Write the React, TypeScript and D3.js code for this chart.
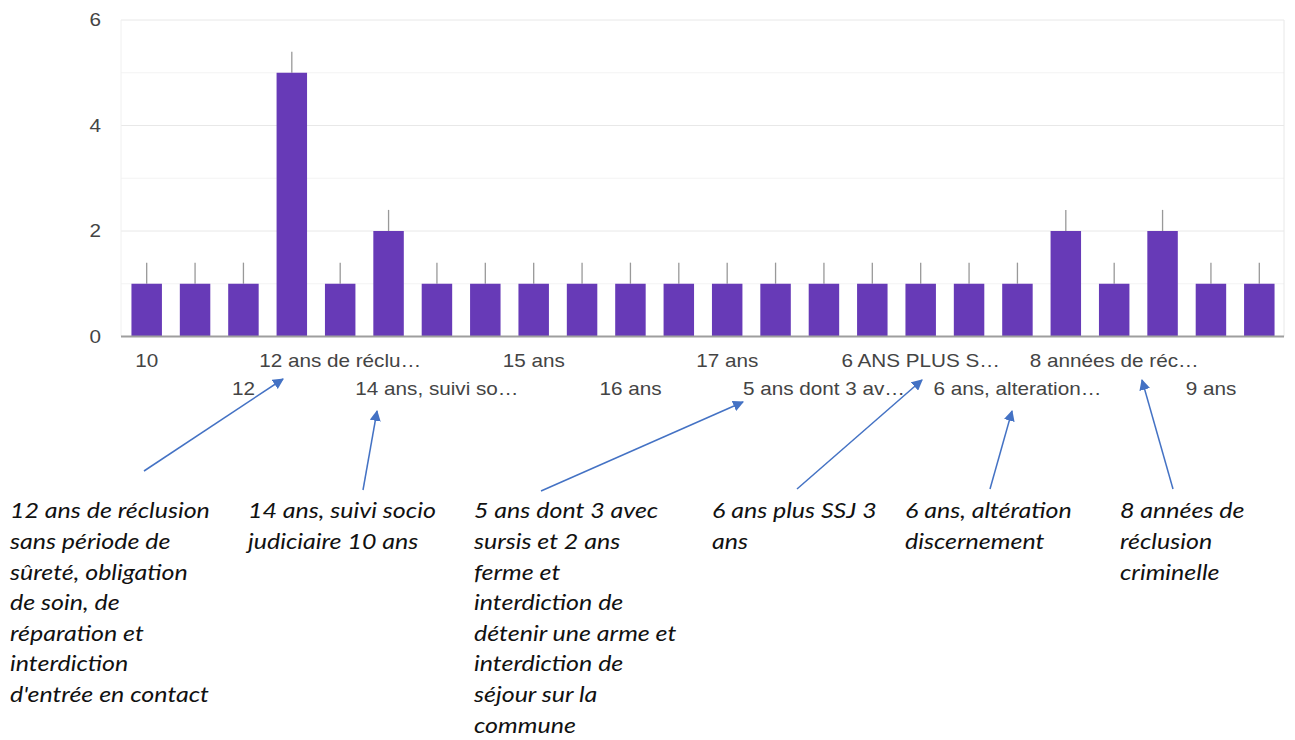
import React from 'react';
import * as d3 from 'd3';

// answers per sentence (Google Forms style bar chart)
const categories = [
  '10', '11', '12', '12 ans', '12 ans de réclu…', '14 ans',
  '14 ans, suivi so…', '15', '15 ans', '16', '16 ans', '17',
  '17 ans', '18 ans', '5 ans dont 3 av…', '6', '6 ANS PLUS S…', '6 ans',
  '6 ans, alteration…', '7 ans', '8 années de réc…', '8 ans', '9 ans', 'Acquitté'
];
const counts = [1, 1, 1, 5, 1, 2, 1, 1, 1, 1, 1, 1, 1, 1, 1, 1, 1, 1, 1, 2, 1, 2, 1, 1];
const yTicks = [0, 2, 4, 6];
const yGrid = [1, 3, 5];

// hand-drawn notes added under the chart
const notes = [
  { lines: ['12 ans de réclusion', 'sans période de', 'sûreté, obligation', 'de soin, de', 'réparation et', 'interdiction', "d'entrée en contact"] },
  { lines: ['14 ans, suivi socio', 'judiciaire 10 ans'] },
  { lines: ['5 ans dont 3 avec', 'sursis et 2 ans', 'ferme et', 'interdiction de', 'détenir une arme et', 'interdiction de', 'séjour sur la', 'commune'] },
  { lines: ['6 ans plus SSJ 3', 'ans'] },
  { lines: ['6 ans, altération', 'discernement'] },
  { lines: ['8 années de', 'réclusion', 'criminelle'] }
];
const noteX = [10, 248, 474, 712, 905, 1120];
const arrows = [
  [[144, 471], [283, 379]],
  [[363, 490], [377, 411]],
  [[541, 491], [743, 402]],
  [[797, 489], [922, 380]],
  [[990, 489], [1012, 411]],
  [[1173, 489], [1142, 380]]
];

const W = 1295;
const H = 740;
const plot = { left: 121, right: 1284, top: 20, bottom: 336.5 };
const whisker = 0.4;
const axisFont = 'Liberation Sans, Arial, sans-serif';
const axisStretch = 1.15;
const noteStretch = 1.19;

export default function App() {
  const x = d3.scaleBand<number>()
    .domain(d3.range(categories.length))
    .range([122.5, 1283.5])
    .paddingInner(0.37)
    .paddingOuter(0.185);
  const y = d3.scaleLinear().domain([0, 6]).range([plot.bottom, plot.top]);

  return (
    <svg width={W} height={H} style={{ position: 'absolute', left: 0, top: 0, background: '#fff' }}>
      <defs>
        <marker id="head" viewBox="0 0 10 10" refX="9" refY="5" markerWidth="11" markerHeight="11"
          markerUnits="userSpaceOnUse" orient="auto">
          <path d="M0,0 L10,5 L0,10 z" fill="#4472c4" />
        </marker>
      </defs>

      {/* gridlines */}
      {yGrid.map(t => (
        <line key={'m' + t} x1={plot.left} x2={plot.right} y1={y(t)} y2={y(t)} stroke="#f3f3f3" />
      ))}
      {yTicks.filter(t => t > 0).map(t => (
        <line key={'g' + t} x1={plot.left} x2={plot.right} y1={y(t)} y2={y(t)} stroke="#e8e8e8" />
      ))}
      <line x1={plot.left} x2={plot.left} y1={plot.top} y2={plot.bottom} stroke="#f0f0f0" />
      <line x1={plot.right} x2={plot.right} y1={plot.top} y2={plot.bottom} stroke="#e8e8e8" />

      {/* y labels */}
      {yTicks.map(t => (
        <text key={'y' + t} transform={`translate(101,${y(t)}) scale(${axisStretch},1)`} dy="0.36em"
          textAnchor="end" fontFamily={axisFont} fontSize={18} fill="#444">{t}</text>
      ))}

      {/* bars + whiskers */}
      {counts.map((v, i) => {
        const cx = x(i)! + x.bandwidth() / 2;
        return (
          <g key={i}>
            <line x1={cx} x2={cx} y1={y(v)} y2={y(v + whisker)} stroke="#999" strokeWidth={1.3} />
            <rect x={x(i)} y={y(v)} width={x.bandwidth()} height={y(0) - y(v)} fill="#673ab7" />
          </g>
        );
      })}

      {/* baseline */}
      <line x1={plot.left} x2={plot.right} y1={y(0)} y2={y(0)} stroke="#9e9e9e" strokeWidth={2} />

      {/* x labels: every other category, staggered */}
      {categories.map((c, i) => i % 2 === 0 ? (
        <text key={'x' + i}
          transform={`translate(${x(i)! + x.bandwidth() / 2},${(i / 2) % 2 === 0 ? 367 : 395}) scale(${axisStretch},1)`}
          textAnchor="middle" fontFamily={axisFont} fontSize={18} fill="#444">{c}</text>
      ) : null)}

      {/* arrows */}
      {arrows.map((a, i) => (
        <line key={'a' + i} x1={a[0][0]} y1={a[0][1]} x2={a[1][0]} y2={a[1][1]}
          stroke="#4472c4" strokeWidth={1.5} markerEnd="url(#head)" />
      ))}

      {/* notes */}
      {notes.map((n, i) => (
        <g key={'n' + i} transform={`translate(${noteX[i]},0) scale(${noteStretch},1)`}>
          <text fontFamily="Lato, 'Open Sans', sans-serif" fontStyle="italic" fontSize={21} fill="#111">
            {n.lines.map((l, j) => (
              <tspan key={j} x={0} y={518.5 + j * 30.6}>{l}</tspan>
            ))}
          </text>
        </g>
      ))}
    </svg>
  );
}
